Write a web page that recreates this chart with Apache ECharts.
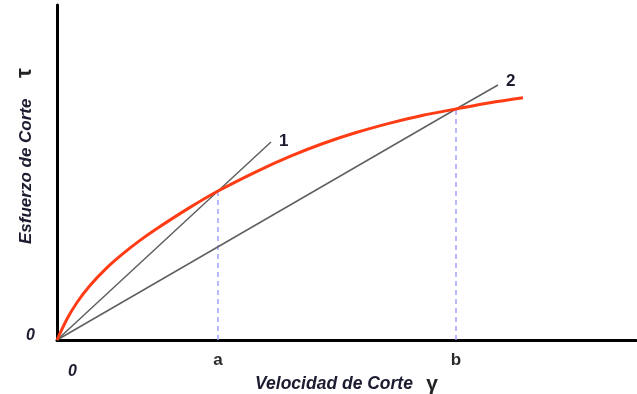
<!DOCTYPE html>
<html>
<head>
<meta charset="utf-8">
<script src="https://cdn.jsdelivr.net/npm/echarts@6/dist/echarts.min.js"></script>
<style>
html,body{margin:0;padding:0;background:#fff;}
#c{width:637px;height:394px;}
</style>
</head>
<body>
<div id="c"></div>
<script>
// Shear curve (x = shear rate, y = shear stress), arbitrary units
const curveX = [0, 10, 20, 33, 50, 66, 83, 100, 133, 161, 200, 233, 266, 300, 333, 366, 399, 433, 466];
const curveY = [0, 21, 37.5, 54.4, 72.3, 86.3, 99.6, 111.5, 132.6, 149, 168.7, 183.6, 196.5, 207.7, 216.9, 224.8, 231, 237.2, 242.2];
// Secant lines from origin
const line1X = [0, 161, 214];
const line1Y = [0, 149, 198];
const line2X = [0, 399, 441];
const line2Y = [0, 231, 255];
// Guide points a and b
const guideX = [161, 399];
const guideY = [149, 231];
const tickValues = [161, 399];
const tickLabels = ['a', 'b'];
const lineNames = ['1', '2'];

const pairs = (xs, ys) => xs.map((x, i) => [x, ys[i]]);
const txtColor = '#1c1c30';
const font = 'Liberation Sans, Arial, sans-serif';

const chart = echarts.init(document.getElementById('c'), null, {renderer: 'canvas'});
const series = [];
guideX.forEach((gx, i) => {
  series.push({
    type: 'line', data: [[gx, 0], [gx, guideY[i]]], symbol: 'none', silent: true,
    lineStyle: {color: '#a0a0ff', width: 1.5, type: [5, 4]}, z: 1
  });
});
const labelOffsets = [[0, -1], [0, -4]];
[[line1X, line1Y], [line2X, line2Y]].forEach((l, i) => {
  series.push({
    type: 'line', symbol: 'none', silent: true, z: 2,
    data: pairs(l[0], l[1]),
    endLabel: {show: true, formatter: lineNames[i], distance: 8, offset: labelOffsets[i], color: txtColor, fontSize: 17, fontWeight: 'bold', fontFamily: font},
    lineStyle: {color: '#606060', width: 1.5}
  });
});
series.push({
  type: 'line', symbol: 'none', smooth: 0.3, silent: true, z: 3,
  data: pairs(curveX, curveY),
  lineStyle: {color: '#ff3c14', width: 3}
});

chart.setOption({
  animation: false,
  backgroundColor: '#fff',
  grid: {left: 57, right: 1, top: 5, bottom: 54, containLabel: false, outerBoundsMode: 'none'},
  xAxis: {
    type: 'value', min: 0, max: 579,
    axisLine: {show: true, onZero: false, lineStyle: {color: '#000', width: 3}},
    axisTick: {show: false},
    splitLine: {show: false},
    axisLabel: {
      customValues: tickValues,
      formatter: v => tickLabels[tickValues.indexOf(v)] || '',
      margin: 12, color: '#2a2a2a', fontSize: 17, fontWeight: 'bold', fontFamily: font
    },
    name: '{n|Velocidad de Corte}    {g|γ}', nameLocation: 'middle', nameGap: 32,
    nameTextStyle: {
      rich: {
        n: {fontSize: 17.5, fontWeight: 'bold', fontStyle: 'italic', color: txtColor, fontFamily: font},
        g: {fontSize: 21, fontWeight: 'bold', color: '#222', fontFamily: font}
      }
    }
  },
  yAxis: {
    type: 'value', min: 0, max: 335,
    axisLine: {show: true, lineStyle: {color: '#000', width: 3}},
    axisTick: {show: false},
    splitLine: {show: false},
    axisLabel: {show: false}
  },
  graphic: [
    {type: 'text', left: 26, top: 328, style: {text: '0', font: 'italic bold 16px ' + font, fill: txtColor}},
    {type: 'text', left: 68, top: 364, style: {text: '0', font: 'italic bold 16px ' + font, fill: txtColor}},
    {type: 'text', x: 26, y: 244, rotation: Math.PI / 2, style: {text: 'Esfuerzo de Corte', font: 'italic bold 17px ' + font, fill: txtColor, align: 'left', verticalAlign: 'middle'}},
    {type: 'text', x: 25, y: 73, rotation: Math.PI / 2, style: {text: 'τ', font: 'bold 22px ' + font, fill: '#222', align: 'center', verticalAlign: 'middle'}}
  ],
  series: series
});
</script>
</body>
</html>
